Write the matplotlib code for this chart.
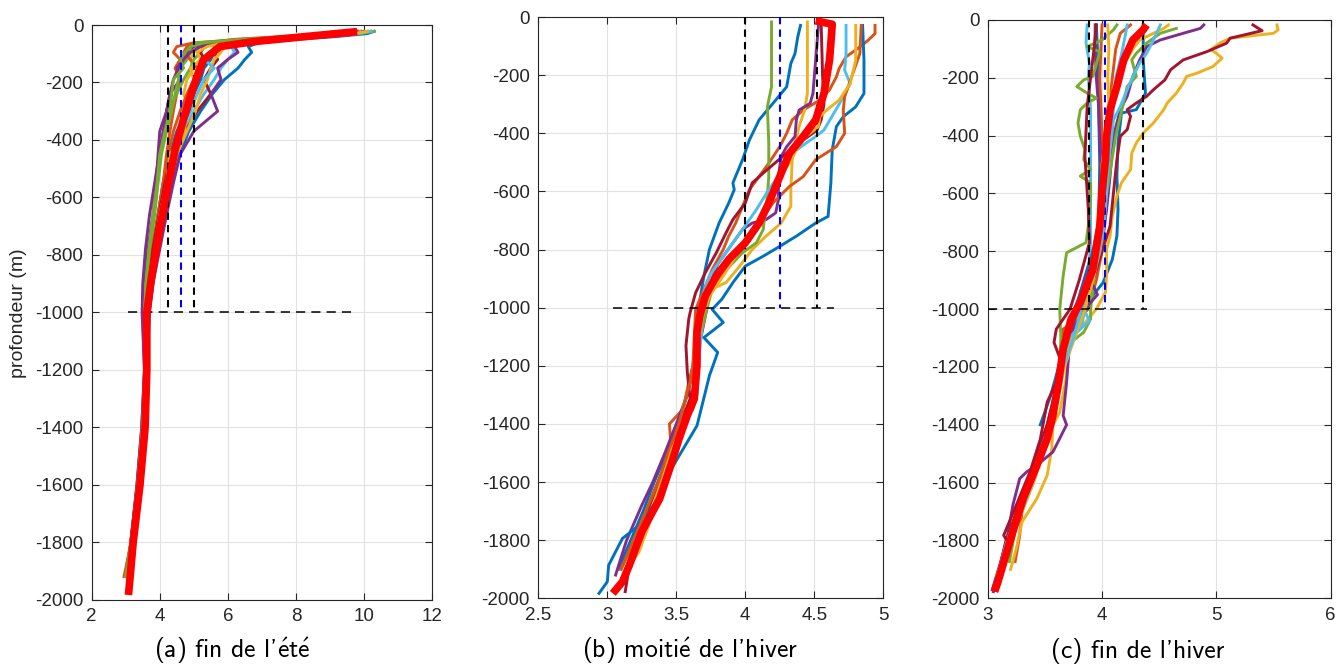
import matplotlib
matplotlib.use("Agg")
import matplotlib.pyplot as plt

plt.rcParams['font.family'] = ['Liberation Sans', 'DejaVu Sans']
plt.rcParams['axes.unicode_minus'] = False
plt.rcParams['mathtext.fontset'] = 'cm'

# MATLAB default colour order
BLUE, ORANGE, YELLOW, PURPLE = '#0072BD', '#D95319', '#EDB120', '#7E2F8E'
GREEN, LBLUE, DRED = '#77AC30', '#4DBEEE', '#A2142F'

# ---------------- (a) fin de l'été ----------------
a_depth = [-22, -30, -40, -50, -62, -75, -95, -120, -150, -190, -240, -300,
           -370, -450, -550, -660, -780, -900, -1000, -1200, -1400, -1600, -1800, -1920]
a_blue1 = [10.3, 10.1, 9.2, 8.0, 6.9, 6.6, 6.7, 6.5, 6.3, 5.9, 5.55, 5.2, 4.85, 4.6, 4.35, 4.15, 3.95, 3.8, 3.68, 3.62, 3.52, 3.40, 3.22, 3.12]
a_orange1 = [9.7, 9.3, 8.0, 6.5, 5.0, 4.5, 4.4, 4.6, 4.45, 4.6, 4.5, 4.4, 4.3, 4.2, 4.1, 3.95, 3.8, 3.7, 3.62, 3.6, 3.5, 3.35, 3.15, 2.98]
a_yellow1 = [10.0, 9.6, 8.5, 7.0, 5.8, 5.2, 5.0, 4.9, 5.0, 4.8, 4.7, 4.9, 4.6, 4.45, 4.25, 4.05, 3.88, 3.74, 3.65, 3.6, 3.5, 3.36, 3.18, 3.05]
a_purple1 = [9.9, 9.5, 8.3, 6.8, 5.5, 5.0, 4.8, 4.7, 4.5, 4.6, 4.3, 4.2, 4.0, 3.95, 3.9, 3.8, 3.65, 3.55, 3.5, 3.55, 3.47, 3.33, 3.15, 3.05]
a_green1 = [10.2, 9.8, 8.2, 6.3, 5.1, 4.9, 4.9, 4.8, 4.6, 4.55, 4.45, 4.35, 4.2, 4.05, 3.95, 3.85, 3.72, 3.62, 3.56, 3.57, 3.48, 3.34, 3.16, 3.0]
a_lblue1 = [10.1, 9.7, 8.8, 7.5, 6.3, 6.1, 6.2, 6.0, 5.8, 5.6, 5.3, 5.0, 4.7, 4.5, 4.3, 4.1, 3.9, 3.75, 3.66, 3.6, 3.52, 3.38, 3.2, 3.1]
a_dred1 = [9.8, 9.4, 8.4, 7.2, 6.0, 5.6, 5.6, 5.7, 5.5, 5.3, 5.5, 5.1, 4.75, 4.5, 4.3, 4.1, 3.9, 3.75, 3.66, 3.6, 3.5, 3.36, 3.17, 3.07]
a_blue2 = [9.6, 9.2, 8.0, 6.9, 6.2, 5.8, 5.6, 5.5, 5.3, 5.2, 5.0, 4.8, 4.5, 4.3, 4.1, 3.95, 3.8, 3.68, 3.6, 3.6, 3.5, 3.36, 3.18, 3.08]
a_orange2 = [9.5, 9.0, 7.6, 6.2, 5.4, 4.8, 4.7, 4.9, 5.1, 5.0, 4.8, 4.6, 4.4, 4.25, 4.1, 3.95, 3.78, 3.66, 3.6, 3.58, 3.48, 3.35, 3.16, 2.95]
a_yellow2 = [9.9, 9.5, 8.6, 7.4, 6.4, 5.9, 5.8, 5.6, 5.5, 5.4, 5.2, 5.05, 4.8, 4.5, 4.3, 4.1, 3.92, 3.76, 3.67, 3.6, 3.5, 3.36, 3.18, 3.06]
a_purple2 = [10.0, 9.7, 9.0, 7.8, 6.5, 6.2, 6.3, 6.0, 5.7, 5.8, 5.5, 5.7, 5.0, 4.6, 4.4, 4.2, 4.0, 3.8, 3.7, 3.62, 3.52, 3.37, 3.18, 3.08]
a_green2 = [10.3, 9.9, 8.8, 7.0, 5.6, 5.3, 5.2, 5.0, 4.9, 4.7, 4.5, 4.25, 4.15, 4.0, 3.9, 3.8, 3.68, 3.58, 3.53, 3.56, 3.48, 3.34, 3.15, 3.0]
a_lblue2 = [10.2, 9.8, 8.7, 7.3, 6.0, 5.7, 5.5, 5.3, 5.6, 5.3, 5.1, 4.9, 4.6, 4.4, 4.2, 4.05, 3.85, 3.7, 3.63, 3.6, 3.5, 3.35, 3.17, 3.08]
a_dred2 = [9.7, 9.3, 8.1, 6.6, 5.6, 5.3, 5.2, 5.3, 5.2, 5.1, 5.0, 4.85, 4.6, 4.35, 4.15, 3.98, 3.8, 3.68, 3.61, 3.59, 3.49, 3.35, 3.17, 3.06]
a_purple3 = [9.8, 9.4, 8.2, 6.8, 5.7, 5.2, 4.9, 4.7, 4.55, 4.4, 4.3, 4.2, 4.1, 3.98, 3.85, 3.7, 3.58, 3.5, 3.48, 3.55, 3.47, 3.33, 3.15, 3.04]
a_yellow3 = [10.1, 9.7, 8.6, 7.1, 5.9, 5.4, 5.1, 5.2, 4.9, 5.0, 4.9, 4.7, 4.75, 4.3, 4.2, 4.0, 3.85, 3.72, 3.64, 3.6, 3.5, 3.36, 3.17, 3.06]
a_green3 = [9.6, 9.2, 7.9, 6.4, 5.3, 4.9, 4.75, 4.6, 4.7, 4.4, 4.35, 4.3, 4.15, 4.0, 3.92, 3.82, 3.7, 3.6, 3.55, 3.57, 3.49, 3.35, 3.16, 3.02]
a_mean_depth = [-23, -40, -58, -75, -122, -215, -331, -435, -551, -702, -876, -1000, -1200, -1400, -1600, -1800, -1920, -1984]
a_mean_temp = [9.8, 8.3, 6.75, 5.77, 5.28, 4.99, 4.69, 4.45, 4.25, 4.01, 3.76, 3.62, 3.62, 3.57, 3.42, 3.22, 3.13, 3.08]
a_vlines_black = [4.25, 5.01]
a_vline_blue = 4.63
a_hline_x = [3.08, 9.65]

# ---------------- (b) moitié de l'hiver ----------------
b_blue1_d = [-29, -69, -126, -160, -240, -286, -320, -354, -423, -491, -571, -594, -640, -709, -800, -891, -1006, -1100, -1200, -1300, -1400, -1500, -1600, -1700, -1800, -1900]
b_blue1_t = [4.40, 4.38, 4.36, 4.33, 4.30, 4.22, 4.16, 4.10, 4.03, 3.98, 3.91, 3.92, 3.88, 3.81, 3.74, 3.70, 3.66, 3.64, 3.62, 3.58, 3.51, 3.43, 3.34, 3.26, 3.17, 3.08]
b_blue2_d = [-29, -150, -263, -309, -343, -377, -457, -571, -686, -709, -754, -789, -823, -857, -914, -971, -1006, -1051, -1103, -1154, -1234, -1349, -1406, -1486, -1566, -1657, -1749, -1794, -1886, -1943, -1983]
b_blue2_t = [4.85, 4.86, 4.86, 4.80, 4.71, 4.66, 4.63, 4.62, 4.60, 4.51, 4.37, 4.25, 4.13, 4.00, 3.91, 3.83, 3.76, 3.84, 3.70, 3.80, 3.74, 3.68, 3.65, 3.55, 3.45, 3.37, 3.23, 3.11, 3.01, 3.00, 2.94]
b_green_d = [-17, -183, -240, -309, -434, -549, -617, -686, -731, -777, -811, -846, -880, -937, -1006, -1200, -1400, -1600, -1800, -1900]
b_green_t = [4.19, 4.19, 4.19, 4.16, 4.17, 4.17, 4.16, 4.14, 4.13, 4.08, 3.98, 3.91, 3.84, 3.76, 3.72, 3.63, 3.52, 3.38, 3.20, 3.10]
b_yellow1_d = [-17, -263, -320, -377, -434, -491, -594, -651, -709, -754, -800, -857, -914, -931]
b_yellow1_t = [4.45, 4.45, 4.43, 4.39, 4.36, 4.34, 4.33, 4.33, 4.26, 4.15, 4.05, 3.96, 3.86, 3.78]
b_yellow2_d = [-29, -149, -229, -286, -320, -343, -377, -411, -457, -503, -549, -617, -686, -754, -823, -891, -960, -1029, -1086, -1200, -1314, -1406, -1486, -1589, -1657, -1749, -1840, -1909]
b_yellow2_t = [4.80, 4.80, 4.76, 4.68, 4.59, 4.54, 4.53, 4.44, 4.37, 4.32, 4.25, 4.17, 4.13, 4.05, 3.93, 3.84, 3.74, 3.69, 3.67, 3.65, 3.63, 3.55, 3.47, 3.40, 3.35, 3.30, 3.23, 3.13]
b_orange1_d = [-29, -57, -80, -103, -137, -177, -206, -251, -286, -320, -354, -400, -446, -503, -549, -594, -640, -709, -754, -800, -869, -949, -1006, -1200, -1257, -1349, -1400, -1463, -1560, -1700, -1850]
b_orange1_t = [4.94, 4.94, 4.89, 4.83, 4.73, 4.68, 4.66, 4.61, 4.54, 4.42, 4.34, 4.30, 4.25, 4.17, 4.10, 4.03, 3.99, 3.93, 3.88, 3.84, 3.76, 3.69, 3.64, 3.62, 3.59, 3.55, 3.45, 3.46, 3.40, 3.28, 3.15]
b_orange2_d = [-29, -126, -274, -320, -400, -446, -491, -549, -583, -640, -709, -777, -846, -914, -983, -1100, -1200, -1400, -1600, -1800, -1900]
b_orange2_t = [4.84, 4.83, 4.72, 4.71, 4.72, 4.66, 4.51, 4.42, 4.32, 4.20, 4.10, 3.98, 3.88, 3.79, 3.69, 3.66, 3.63, 3.52, 3.37, 3.19, 3.10]
b_purple_d = [-29, -149, -263, -297, -320, -354, -411, -446, -480, -549, -629, -674, -697, -709, -731, -777, -850, -950, -1006, -1100, -1200, -1300, -1400, -1497, -1600, -1680, -1800, -1920]
b_purple_t = [4.53, 4.51, 4.49, 4.47, 4.39, 4.37, 4.36, 4.30, 4.26, 4.24, 4.24, 4.22, 4.15, 4.05, 3.98, 3.91, 3.80, 3.72, 3.72, 3.68, 3.63, 3.58, 3.50, 3.42, 3.33, 3.25, 3.14, 3.06]
b_dred_d = [-29, -200, -300, -354, -389, -434, -480, -537, -571, -640, -697, -743, -811, -880, -949, -1017, -1040, -1131, -1223, -1314, -1400, -1500, -1600, -1700, -1800, -1886, -1977]
b_dred_t = [4.55, 4.56, 4.57, 4.55, 4.52, 4.39, 4.27, 4.13, 4.05, 4.00, 3.91, 3.86, 3.79, 3.71, 3.64, 3.60, 3.59, 3.57, 3.58, 3.60, 3.53, 3.45, 3.37, 3.29, 3.21, 3.16, 3.13]
b_lblue_d = [-29, -126, -183, -229, -300, -389, -411, -434, -469, -526, -594, -663, -731, -823, -891, -960, -1100, -1200, -1300, -1350]
b_lblue_t = [4.73, 4.73, 4.72, 4.76, 4.68, 4.57, 4.51, 4.44, 4.34, 4.27, 4.17, 4.08, 3.98, 3.84, 3.74, 3.69, 3.68, 3.66, 3.65, 3.62]
b_mean_d = [-13, -25, -91, -149, -263, -354, -411, -469, -549, -640, -709, -777, -834, -891, -960, -1029, -1086, -1200, -1314, -1371, -1451, -1543, -1657, -1771, -1886, -1943, -1983]
b_mean_t = [4.51, 4.63, 4.62, 4.61, 4.57, 4.51, 4.42, 4.32, 4.25, 4.17, 4.10, 4.00, 3.88, 3.79, 3.71, 3.67, 3.65, 3.65, 3.63, 3.58, 3.52, 3.46, 3.38, 3.25, 3.16, 3.11, 3.04]
b_vlines_black = [4.0, 4.52]
b_vline_blue = 4.25
b_hline_x = [3.04, 4.64]

# ---------------- (c) fin de l'hiver ----------------
c_yellow1_d = [-17, -34, -46, -63, -80, -103, -115, -132, -161, -184, -195, -218, -253, -287, -310, -356, -391, -425, -460, -517, -563, -609, -678, -747, -793, -885, -942, -1000, -1080, -1126, -1230, -1356, -1402, -1483, -1575, -1655, -1736, -1828, -1900]
c_yellow1_t = [5.53, 5.54, 5.50, 5.12, 5.03, 4.95, 5.00, 5.05, 4.97, 4.83, 4.74, 4.71, 4.65, 4.57, 4.54, 4.45, 4.36, 4.30, 4.26, 4.25, 4.17, 4.13, 4.09, 4.07, 4.04, 4.04, 4.03, 3.95, 3.78, 3.69, 3.69, 3.63, 3.57, 3.56, 3.52, 3.43, 3.30, 3.25, 3.20]
c_dred1_d = [-17, -37, -63, -80, -109, -138, -172, -207, -241, -264, -287, -310, -333, -379, -402, -483, -598, -713, -800, -900, -977, -1050, -1150, -1250, -1400, -1600, -1800, -1900]
c_dred1_t = [5.32, 5.40, 5.12, 5.09, 4.92, 4.71, 4.60, 4.55, 4.45, 4.39, 4.30, 4.22, 4.25, 4.22, 4.16, 4.13, 4.10, 4.07, 4.00, 3.92, 3.85, 3.72, 3.66, 3.62, 3.52, 3.35, 3.16, 3.10]
c_dred2_d = [-17, -100, -200, -300, -471, -655, -770, -900, -1000, -1069, -1115, -1200, -1322, -1450, -1563, -1678, -1782, -1795]
c_dred2_t = [3.95, 3.93, 3.90, 3.87, 3.85, 3.88, 3.89, 3.80, 3.72, 3.60, 3.58, 3.66, 3.52, 3.46, 3.37, 3.25, 3.14, 3.16]
c_lblue1_d = [-17, -80, -150, -195, -310, -540, -770, -885, -1000, -1040, -1080, -1100, -1200, -1300, -1400, -1500, -1600, -1700, -1800, -1900, -1970]
c_lblue1_t = [3.87, 3.86, 3.89, 3.88, 3.90, 3.90, 3.90, 3.88, 3.84, 3.89, 3.78, 3.72, 3.66, 3.62, 3.55, 3.45, 3.35, 3.27, 3.20, 3.12, 3.08]
c_lblue2_d = [-17, -60, -120, -200, -300, -400, -500, -600, -700, -800, -900, -1000, -1060, -1100, -1200, -1400, -1600, -1800, -1900]
c_lblue2_t = [4.22, 4.20, 4.17, 4.12, 4.10, 4.08, 4.05, 4.04, 4.02, 3.98, 3.92, 3.85, 3.82, 3.70, 3.64, 3.54, 3.36, 3.17, 3.10]
c_lblue3_d = [-17, -69, -115, -149, -195, -241, -299, -345, -450, -600, -750, -900, -1000, -1100, -1200, -1400, -1600, -1800, -1920]
c_lblue3_t = [4.51, 4.45, 4.39, 4.33, 4.27, 4.22, 4.16, 4.10, 4.07, 4.03, 3.99, 3.90, 3.82, 3.75, 3.66, 3.55, 3.39, 3.20, 3.10]
c_blue1_d = [-17, -138, -253, -310, -322, -425, -540, -655, -747, -828, -908, -977, -1023, -1100, -1200, -1300, -1400, -1500, -1600, -1700, -1800, -1900, -1960]
c_blue1_t = [4.36, 4.36, 4.38, 4.30, 4.17, 4.14, 4.13, 4.14, 4.13, 4.09, 4.01, 3.87, 3.78, 3.68, 3.63, 3.58, 3.52, 3.44, 3.34, 3.25, 3.18, 3.11, 3.07]
c_blue2_d = [-17, -100, -300, -500, -700, -800, -900, -1000, -1100, -1200, -1300, -1400]
c_blue2_t = [3.95, 3.96, 3.97, 3.98, 3.97, 3.92, 3.85, 3.76, 3.70, 3.62, 3.55, 3.46]
c_purple1_d = [-17, -29, -46, -69, -92, -138, -195, -264, -310, -402, -540, -655, -747, -793, -862, -942, -1000, -1100, -1253, -1368, -1400, -1494, -1540, -1563, -1586, -1678, -1793, -1885, -1977]
c_purple1_t = [4.89, 4.86, 4.71, 4.51, 4.39, 4.33, 4.27, 4.22, 4.16, 4.10, 4.07, 4.04, 4.01, 3.92, 3.87, 3.81, 3.78, 3.72, 3.69, 3.66, 3.69, 3.57, 3.43, 3.34, 3.28, 3.22, 3.17, 3.11, 3.05]
c_purple2_d = [-17, -100, -200, -300, -400, -500, -600, -700, -800, -900, -950, -1000, -1100, -1200, -1400, -1600, -1800, -1970]
c_purple2_t = [3.94, 3.94, 3.95, 3.97, 3.98, 3.99, 4.00, 3.99, 3.96, 3.90, 3.96, 3.85, 3.70, 3.64, 3.55, 3.37, 3.17, 3.04]
c_green1_d = [-29, -46, -80, -115, -138, -195, -230, -300, -400, -500, -600, -700, -800, -900, -1000, -1034, -1080, -1126, -1300, -1500, -1700, -1873]
c_green1_t = [4.65, 4.51, 4.39, 4.30, 4.26, 4.30, 4.22, 4.18, 4.12, 4.08, 4.04, 4.00, 3.97, 3.93, 3.90, 3.90, 3.84, 3.69, 3.60, 3.45, 3.27, 3.19]
c_green2_d = [-17, -34, -69, -92, -110, -195, -207, -230, -253, -270, -287, -310, -356, -402, -448, -483, -517, -540, -563, -609, -713, -770, -805, -885, -1000, -1100, -1200, -1400, -1600, -1800, -1920]
c_green2_t = [4.13, 4.10, 4.00, 3.87, 3.98, 3.92, 3.84, 3.78, 3.87, 3.95, 3.87, 3.81, 3.79, 3.81, 3.85, 3.84, 3.90, 3.81, 3.90, 3.90, 3.88, 3.86, 3.69, 3.66, 3.63, 3.64, 3.63, 3.55, 3.38, 3.20, 3.08]
c_orange1_d = [-17, -46, -100, -200, -300, -400, -500, -600, -700, -800, -900, -1000, -1046, -1069, -1200, -1400, -1600, -1700, -1782, -1873]
c_orange1_t = [4.25, 4.16, 4.12, 4.09, 4.06, 4.05, 4.04, 4.03, 4.02, 4.00, 3.95, 3.88, 3.75, 3.66, 3.64, 3.56, 3.39, 3.30, 3.28, 3.24]
c_orange2_d = [-17, -100, -200, -300, -400, -600, -800, -900, -1000, -1100, -1200, -1400, -1600, -1800, -1950]
c_orange2_t = [4.00, 3.99, 3.98, 3.99, 4.00, 4.01, 3.98, 3.92, 3.85, 3.70, 3.63, 3.54, 3.38, 3.18, 3.07]
c_yellow2_d = [-17, -29, -46, -69, -100, -150, -200, -300, -400, -500, -600, -700, -800, -900, -1000, -1100, -1200, -1400, -1600, -1800, -1920]
c_yellow2_t = [4.58, 4.54, 4.45, 4.33, 4.27, 4.20, 4.15, 4.10, 4.06, 4.04, 4.03, 4.02, 3.98, 3.90, 3.82, 3.74, 3.66, 3.56, 3.40, 3.20, 3.10]
c_yellow3_d = [-17, -100, -200, -300, -500, -700, -800, -900, -1000, -1100, -1200, -1400, -1600, -1800, -1950]
c_yellow3_t = [4.05, 4.06, 4.05, 4.06, 4.00, 4.00, 3.97, 3.92, 3.85, 3.76, 3.67, 3.57, 3.40, 3.20, 3.08]
c_mean_d = [-17, -34, -69, -138, -230, -310, -402, -483, -598, -713, -862, -977, -1034, -1138, -1253, -1368, -1448, -1540, -1655, -1770, -1862, -1943, -1977]
c_mean_t = [4.39, 4.36, 4.27, 4.19, 4.13, 4.07, 4.04, 4.03, 4.00, 3.98, 3.92, 3.81, 3.73, 3.66, 3.62, 3.57, 3.52, 3.43, 3.31, 3.22, 3.15, 3.09, 3.06]
c_vlines_black = [3.886, 4.36]
c_vline_blue = 4.03
c_hline_x = [3.0, 4.39]

depth_ticks = list(range(-2000, 1, 200))
E_ACUTE = r"$\mathsf{\acute{e}}$"
captions = ["(a) fin de l'" + E_ACUTE + "t" + E_ACUTE,
            "(b) moiti" + E_ACUTE + " de l'hiver",
            "(c) fin de l'hiver"]
ylabel_text = "profondeur (m)"

# ---------------- assemble ----------------
a_profiles = [(BLUE, a_depth, a_blue1), (ORANGE, a_depth, a_orange1), (YELLOW, a_depth, a_yellow1),
              (PURPLE, a_depth, a_purple1), (GREEN, a_depth, a_green1), (LBLUE, a_depth, a_lblue1),
              (DRED, a_depth, a_dred1), (BLUE, a_depth, a_blue2), (ORANGE, a_depth, a_orange2),
              (YELLOW, a_depth, a_yellow2), (PURPLE, a_depth, a_purple2), (GREEN, a_depth, a_green2),
              (LBLUE, a_depth, a_lblue2), (DRED, a_depth, a_dred2), (PURPLE, a_depth, a_purple3),
              (YELLOW, a_depth, a_yellow3), (GREEN, a_depth, a_green3)]
b_profiles = [(BLUE, b_blue1_d, b_blue1_t), (ORANGE, b_orange1_d, b_orange1_t),
              (YELLOW, b_yellow1_d, b_yellow1_t), (PURPLE, b_purple_d, b_purple_t),
              (GREEN, b_green_d, b_green_t), (LBLUE, b_lblue_d, b_lblue_t),
              (DRED, b_dred_d, b_dred_t), (BLUE, b_blue2_d, b_blue2_t),
              (ORANGE, b_orange2_d, b_orange2_t), (YELLOW, b_yellow2_d, b_yellow2_t)]
c_profiles = [(BLUE, c_blue1_d, c_blue1_t), (ORANGE, c_orange1_d, c_orange1_t),
              (YELLOW, c_yellow1_d, c_yellow1_t), (PURPLE, c_purple1_d, c_purple1_t),
              (GREEN, c_green1_d, c_green1_t), (LBLUE, c_lblue1_d, c_lblue1_t),
              (DRED, c_dred1_d, c_dred1_t), (BLUE, c_blue2_d, c_blue2_t),
              (ORANGE, c_orange2_d, c_orange2_t), (YELLOW, c_yellow2_d, c_yellow2_t),
              (PURPLE, c_purple2_d, c_purple2_t), (GREEN, c_green2_d, c_green2_t),
              (LBLUE, c_lblue2_d, c_lblue2_t), (DRED, c_dred2_d, c_dred2_t),
              (YELLOW, c_yellow3_d, c_yellow3_t), (LBLUE, c_lblue3_d, c_lblue3_t)]

W, H = 1339, 667
fig = plt.figure(figsize=(W / 100, H / 100), dpi=100)


def add_ax(l, r, t, b):
    return fig.add_axes([l / W, 1 - b / H, (r - l) / W, (b - t) / H])


axa = add_ax(91.7, 432.0, 25.0, 599.6)
axb = add_ax(538.3, 883.3, 17.0, 598.3)
axc = add_ax(987.7, 1330.7, 20.0, 598.3)

panels = [
    (axa, a_profiles, (a_mean_depth, a_mean_temp), a_vlines_black, a_vline_blue, a_hline_x,
     (2, 12), [2, 4, 6, 8, 10, 12], ['2', '4', '6', '8', '10', '12']),
    (axb, b_profiles, (b_mean_d, b_mean_t), b_vlines_black, b_vline_blue, b_hline_x,
     (2.5, 5), [2.5, 3, 3.5, 4, 4.5, 5], ['2.5', '3', '3.5', '4', '4.5', '5']),
    (axc, c_profiles, (c_mean_d, c_mean_t), c_vlines_black, c_vline_blue, c_hline_x,
     (3, 6), [3, 4, 5, 6], ['3', '4', '5', '6']),
]

for ax, profiles, mean, vblack, vblue, hx, xlim, xt, xtl in panels:
    for col, d, t in profiles:
        ax.plot(t, d, color=col, lw=2.1, zorder=2, solid_joinstyle='round')
    for xv in vblack:
        ax.plot([xv, xv], [0, -1000], color='black', lw=1.5, dashes=(3.5, 2.5), zorder=3)
    ax.plot([vblue, vblue], [0, -1000], color='#0000FF', lw=1.5, dashes=(3.5, 2.5), zorder=3)
    ax.plot(hx, [-1000, -1000], color='black', lw=1.1, dashes=(6, 4), zorder=3)
    ax.plot(mean[1], mean[0], color='#FF0000', lw=5.5, zorder=4,
            solid_joinstyle='round', solid_capstyle='butt')
    ax.set_xlim(*xlim)
    ax.set_ylim(-2000, 0)
    ax.set_xticks(xt)
    ax.set_xticklabels(xtl)
    ax.set_yticks(depth_ticks)
    ax.set_yticklabels([str(v) for v in depth_ticks])
    ax.grid(True, color='#e2e2e2', lw=0.8)
    ax.set_axisbelow(True)
    ax.tick_params(direction='in', length=5, width=0.8, top=True, right=True,
                   labelsize=13.5, colors='#262626', pad=6)
    for s in ax.spines.values():
        s.set_color('#262626')
        s.set_linewidth(0.8)

fig.text(19 / W, 1 - 313 / H, ylabel_text, rotation=90, ha='center', va='center',
         fontsize=14, color='#262626')

cap_x = [232, 690, 1138]
for x, txt in zip(cap_x, captions):
    fig.text(x / W, 1 - 651 / H, txt, ha='center', va='center', fontsize=18.5,
             family=['cmss10', 'DejaVu Sans'], color='black')

fig.savefig('out.png', dpi=100)
